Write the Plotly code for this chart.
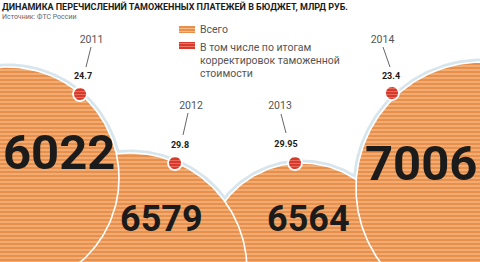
import numpy as np
import plotly.graph_objects as go

# ---- data ----
years = ["2011", "2012", "2013", "2014"]
totals = [6022, 6579, 6564, 7006]
corrections = [24.7, 29.8, 29.95, 23.4]
legend_labels = ["Всего", "В том числе по итогам<br>корректировок таможенной<br>стоимости"]
title_text = "ДИНАМИКА ПЕРЕЧИСЛЕНИЙ ТАМОЖЕННЫХ ПЛАТЕЖЕЙ В БЮДЖЕТ, МЛРД РУБ."
source_text = "Источник: ФТС России"

# ---- layout (pixel space) ----
W, H = 480, 262
circ_cx = [8, 130, 302, 482]
circ_cy = [178, 270, 260, 188]
circ_r = [111, 117, 97, 126]
draw_order = [2, 1, 0, 3]
num_x = [59, 161, 308, 421]
num_y = [152, 219, 219, 163]
num_size = [49, 36, 36, 49]
dot_x = [80, 175, 295, 392]
dot_y = [94, 163, 163, 93]
dot_r = 7
corr_x = [83, 180, 286, 391]
corr_y = [77, 146, 145, 77]
year_x = [91.5, 191, 280, 382.5]
year_y = [40, 106, 106, 40]
conn = [((91, 47), (86, 67)), ((188, 113), (183, 135)), ((281, 114), (286, 133)), ((383, 47), (390, 67))]
legend_line_y = [47, 60, 73]

ORANGE = "#e8904b"
ORANGE_L = "#f6bf8c"
RED = "#d63a2c"
RED_L = "#ee7a68"
HALO = "#d7e5ed"
FONT = "Roboto, sans-serif"

def circle(cx, cy, r, n=240):
    t = np.linspace(0, 2 * np.pi, n)
    return cx + r * np.cos(t), cy + r * np.sin(t)

fig = go.Figure()

# halos
for i in range(4):
    x, y = circle(circ_cx[i], circ_cy[i], circ_r[i] + 3.5)
    fig.add_trace(go.Scatter(x=x, y=y, fill="toself", fillcolor=HALO, mode="lines",
                             line=dict(width=0, color=HALO), hoverinfo="skip", showlegend=False))

# big circles
for i in draw_order:
    x, y = circle(circ_cx[i], circ_cy[i], circ_r[i])
    fig.add_trace(go.Scatter(x=x, y=y, fill="toself", mode="lines",
                             fillpattern=dict(shape="-", bgcolor=ORANGE, fgcolor=ORANGE_L,
                                              size=4, solidity=0.3, fillmode="replace"),
                             line=dict(width=1.6, color="white"), hoverinfo="skip", showlegend=False))

# red dots
for i in range(4):
    x, y = circle(dot_x[i], dot_y[i], dot_r, 60)
    fig.add_trace(go.Scatter(x=x, y=y, fill="toself", mode="lines",
                             fillpattern=dict(shape="-", bgcolor=RED, fgcolor=RED_L,
                                              size=3, solidity=0.25, fillmode="replace"),
                             line=dict(width=1.8, color="white"), hoverinfo="skip", showlegend=False))

# legend swatches
for k, (col, colL) in enumerate([(ORANGE, ORANGE_L), (RED, RED_L)]):
    y0 = 26 if k == 0 else 42
    fig.add_trace(go.Scatter(x=[179, 195, 195, 179, 179], y=[y0, y0, y0 + 7, y0 + 7, y0],
                             fill="toself", mode="lines",
                             fillpattern=dict(shape="-", bgcolor=col, fgcolor=colL,
                                              size=3, solidity=0.3, fillmode="replace"),
                             line=dict(width=0, color=col), hoverinfo="skip", showlegend=False))

# correction labels
fig.add_trace(go.Scatter(x=corr_x, y=corr_y, mode="text", text=["<b>%s</b>" % v for v in corrections],
                         textposition="middle center",
                         textfont=dict(family=FONT, size=9, color="#1b1b1b"),
                         hoverinfo="skip", showlegend=False))
# year labels
fig.add_trace(go.Scatter(x=year_x, y=year_y, mode="text", text=years,
                         textposition="middle center",
                         textfont=dict(family=FONT, size=10.5, color="#555555"),
                         hoverinfo="skip", showlegend=False))

shapes = []
for (a, b) in conn:
    shapes.append(dict(type="line", x0=a[0], y0=a[1], x1=b[0], y1=b[1], xref="x", yref="y",
                       line=dict(color="#666666", width=1)))

annotations = [
    dict(x=0, y=6.5, xref="x", yref="y", text="<b>" + title_text + "</b>", showarrow=False,
         xanchor="left", yanchor="middle", font=dict(family=FONT, size=9, color="#1b1b1b")),
    dict(x=0, y=16.5, xref="x", yref="y", text=source_text, showarrow=False,
         xanchor="left", yanchor="middle", font=dict(family=FONT, size=7, color="#666666")),
    dict(x=198, y=29.5, xref="x", yref="y", text=legend_labels[0], showarrow=False,
         xanchor="left", yanchor="middle", font=dict(family=FONT, size=10.5, color="#555555")),
]
for line, ly in zip(legend_labels[1].split("<br>"), legend_line_y):
    annotations.append(dict(x=198, y=ly, xref="x", yref="y", text=line, showarrow=False,
                            xanchor="left", yanchor="middle",
                            font=dict(family=FONT, size=10.5, color="#555555")))
# big numbers
for i in range(4):
    annotations.append(dict(x=num_x[i], y=num_y[i], xref="x", yref="y", text="<b>%d</b>" % totals[i],
                            showarrow=False, xanchor="center", yanchor="middle",
                            font=dict(family=FONT, size=num_size[i], color="#1b1b1b")))

fig.update_layout(
    width=W, height=H, autosize=False,
    margin=dict(l=0, r=0, t=0, b=0, pad=0),
    paper_bgcolor="white", plot_bgcolor="white",
    xaxis=dict(range=[0, W], visible=False, fixedrange=True),
    yaxis=dict(range=[H, 0], visible=False, fixedrange=True),
    shapes=shapes, annotations=annotations,
)

fig.write_html("out.html", config={"displayModeBar": False})
